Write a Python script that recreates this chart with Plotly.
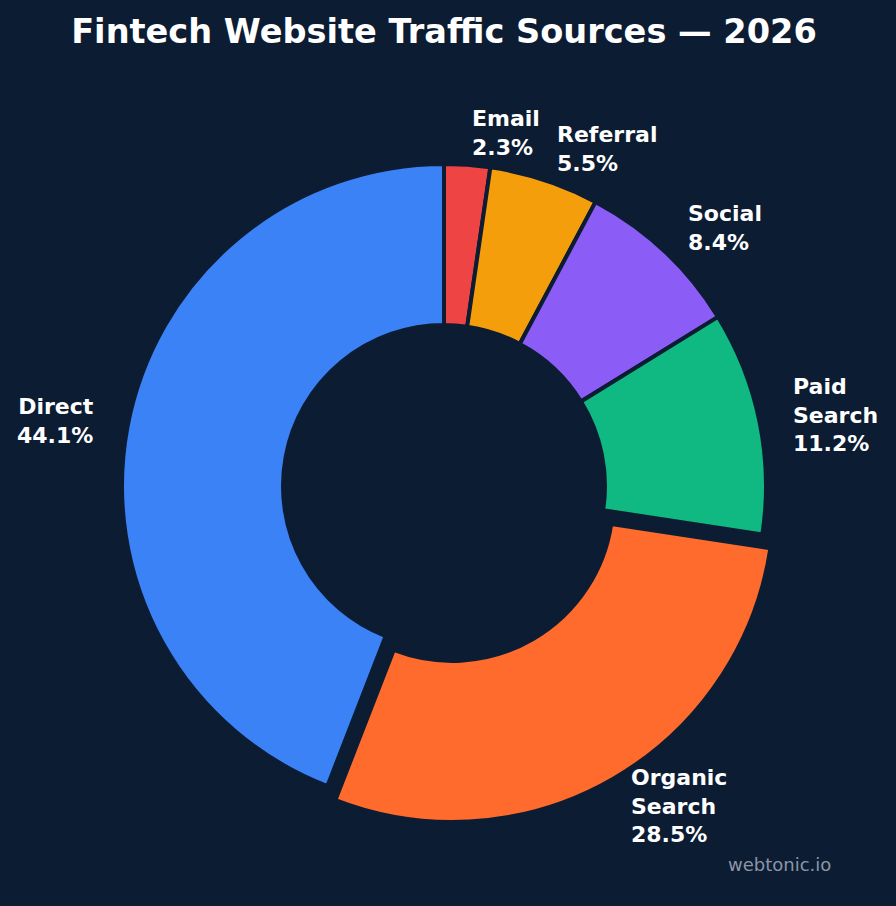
import math
import plotly.graph_objects as go

labels = ["Email", "Referral", "Social", "Paid Search", "Organic Search", "Direct"]
display_labels = ["Email", "Referral", "Social", "Paid<br>Search", "Organic<br>Search", "Direct"]
values = [2.3, 5.5, 8.4, 11.2, 28.5, 44.1]
colors = ["#EF4444", "#F59E0B", "#8B5CF6", "#10B981", "#FF6B2C", "#3B82F6"]
pulls = [0, 0, 0, 0, 0.05, 0]

BG = "#0b1c33"
W, H = 896, 906
cx, cy, R = 444, 486, 322
half = R * 1.05
LABEL_DIST = 1.1

fig = go.Figure(go.Pie(
    labels=labels,
    values=values,
    textinfo="none",
    marker=dict(colors=colors, line=dict(color=BG, width=4)),
    hole=0.5,
    sort=False,
    direction="clockwise",
    rotation=0,
    pull=pulls,
    automargin=False,
    showlegend=False,
    domain=dict(x=[(cx - half) / W, (cx + half) / W],
                y=[1 - (cy + half) / H, 1 - (cy - half) / H]),
))

# Slice labels placed outside each slice, derived from the values
total = sum(values)
annotations = []
cum = 0.0
for lab, v, p in zip(display_labels, values, pulls):
    mid = (cum + v / 2) / total * 2 * math.pi
    cum += v
    s, c = math.sin(mid), math.cos(mid)
    ox, oy = cx + p * R * s, cy - p * R * c
    lx, ly = ox + LABEL_DIST * R * s, oy - LABEL_DIST * R * c
    side = "left" if s >= 0 else "right"
    annotations.append(dict(
        text=f"<b>{lab}<br>{v / total * 100:.1f}%</b>",
        x=lx / W, y=1 - ly / H, xref="paper", yref="paper",
        xanchor=side, yanchor="middle", align=side, showarrow=False,
        font=dict(family="DejaVu Sans", size=22, color="white"),
    ))

annotations.append(dict(text="webtonic.io", x=779 / W, y=1 - 864 / H,
                        xref="paper", yref="paper", showarrow=False,
                        xanchor="center", yanchor="middle",
                        font=dict(family="DejaVu Sans", size=18, color="#8b95a5")))

fig.update_layout(
    width=W, height=H,
    paper_bgcolor=BG, plot_bgcolor=BG,
    margin=dict(l=0, r=0, t=0, b=0),
    title=dict(text="<b>Fintech Website Traffic Sources — 2026</b>",
               x=444 / W, xanchor="center", y=1 - 31 / H, yanchor="middle",
               font=dict(family="DejaVu Sans", size=33.6, color="white")),
    annotations=annotations,
)

fig.write_html("out.html")
